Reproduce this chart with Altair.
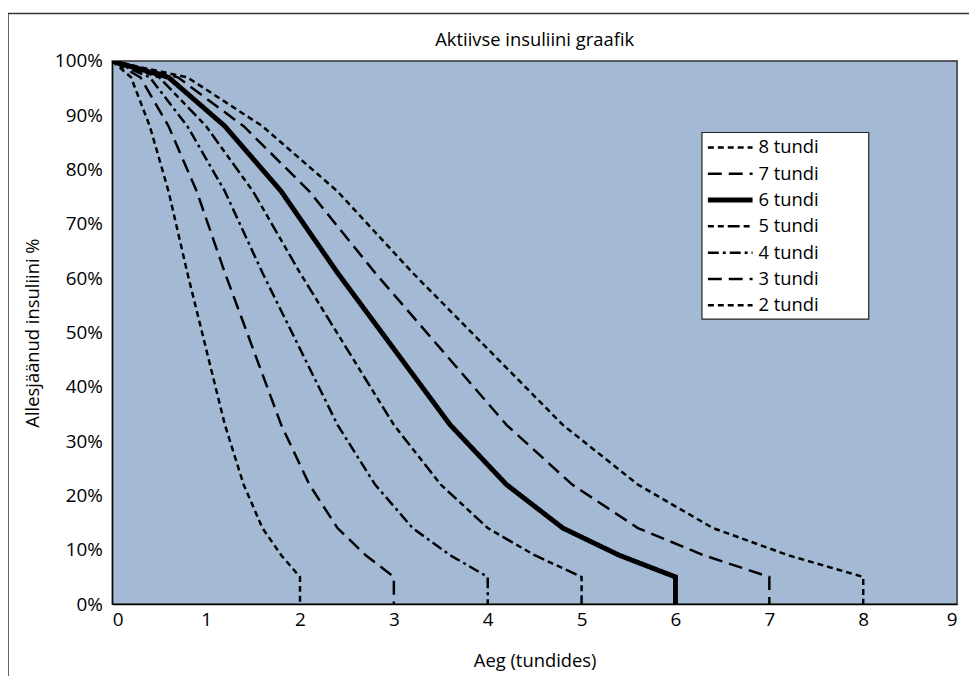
import altair as alt
import pandas as pd

# ---- data ----
series_names = ["8 tundi", "7 tundi", "6 tundi", "5 tundi", "4 tundi", "3 tundi", "2 tundi"]
remaining_pct = [100, 97, 88, 76, 61, 47, 33, 22, 14, 9, 5, 0]
hours_8 = [0, 0.8, 1.6, 2.4, 3.2, 4.0, 4.8, 5.6, 6.4, 7.2, 8.0, 8.0]
hours_7 = [0, 0.7, 1.4, 2.1, 2.8, 3.5, 4.2, 4.9, 5.6, 6.3, 7.0, 7.0]
hours_6 = [0, 0.6, 1.2, 1.8, 2.4, 3.0, 3.6, 4.2, 4.8, 5.4, 6.0, 6.0]
hours_5 = [0, 0.5, 1.0, 1.5, 2.0, 2.5, 3.0, 3.5, 4.0, 4.5, 5.0, 5.0]
hours_4 = [0, 0.4, 0.8, 1.2, 1.6, 2.0, 2.4, 2.8, 3.2, 3.6, 4.0, 4.0]
hours_3 = [0, 0.3, 0.6, 0.9, 1.2, 1.5, 1.8, 2.1, 2.4, 2.7, 3.0, 3.0]
hours_2 = [0, 0.2, 0.4, 0.6, 0.8, 1.0, 1.2, 1.4, 1.6, 1.8, 2.0, 2.0]
x_ticks = [0, 1, 2, 3, 4, 5, 6, 7, 8, 9]
y_ticks = [0, 10, 20, 30, 40, 50, 60, 70, 80, 90, 100]
chart_title = "Aktiivse insuliini graafik"

# ---- styles ----
dash_styles = [[6, 4], [14, 7], [1, 0], [6, 4, 6, 4, 12, 4], [11, 4, 3, 4], [14, 7], [6, 4]]
width_styles = [2.5, 2.5, 5, 2.5, 2.5, 2.5, 2.5]
FONT = "Open Sans"

hours_by_series = [hours_8, hours_7, hours_6, hours_5, hours_4, hours_3, hours_2]
rows = []
for name, hrs in zip(series_names, hours_by_series):
    for i, (h, p) in enumerate(zip(hrs, remaining_pct)):
        rows.append({"series": name, "idx": i, "hours": h, "pct": p})
df = pd.DataFrame(rows)
legend_df = pd.DataFrame({"series": series_names})
title_df = pd.DataFrame({"title": [chart_title]})

W, H = 851, 547

dash_scale = alt.Scale(type="ordinal", domain=series_names, range=dash_styles)
width_scale = alt.Scale(type="ordinal", domain=series_names, range=width_styles)

lines = alt.Chart(df).mark_line(color="black", clip=True).encode(
    x=alt.X("hours:Q", scale=alt.Scale(domain=[0, 9], nice=False),
            axis=alt.Axis(values=x_ticks, format="d", title="Aeg (tundides)",
                          titleY=57, titleBaseline="middle")),
    y=alt.Y("pct:Q", scale=alt.Scale(domain=[0, 100], nice=False),
            axis=alt.Axis(values=y_ticks, labelExpr="datum.value + '%'",
                          title="Allesjäänud insuliini %", titleX=-80,
                          titleBaseline="middle")),
    strokeDash=alt.StrokeDash("series:N", scale=dash_scale, legend=None),
    strokeWidth=alt.StrokeWidth("series:N", scale=width_scale, legend=None),
    detail="series:N",
    order=alt.Order("idx:Q"),
)

legend_box = alt.Chart(title_df).mark_rect(
    fill="white", stroke="#222", strokeWidth=1.2
).encode(
    x=alt.value(594), x2=alt.value(762), y=alt.value(72), y2=alt.value(260)
)

leg_y = alt.Y("series:N", scale=alt.Scale(type="point", domain=series_names,
                                            range=[87, 246], padding=0), axis=None)

legend_lines = alt.Chart(legend_df).mark_rule(color="black").encode(
    x=alt.value(600), x2=alt.value(645), y=leg_y,
    strokeDash=alt.StrokeDash("series:N", scale=dash_scale, legend=None),
    strokeWidth=alt.StrokeWidth("series:N", scale=width_scale, legend=None),
)

legend_text = alt.Chart(legend_df).mark_text(
    align="left", baseline="middle", fontSize=18.5, font=FONT, color="black"
).encode(x=alt.value(651), y=leg_y, text="series:N")

title_text = alt.Chart(title_df).mark_text(
    align="center", baseline="middle", fontSize=18.5, font=FONT, color="black"
).encode(x=alt.value(W / 2), y=alt.value(-21), text="title:N")

frame = alt.Chart(title_df).mark_rect(
    fill="white", fillOpacity=0, stroke="#333", strokeWidth=1.5
).encode(
    x=alt.value(-105), x2=alt.value(W + 60), y=alt.value(-48), y2=alt.value(H + 120)
)

chart = alt.layer(frame, title_text, lines, legend_box, legend_lines, legend_text).resolve_scale(
    y="independent"
).properties(
    width=W, height=H,
    autosize=alt.AutoSizeParams(type="none"),
    padding={"left": 105, "top": 51, "right": 12, "bottom": 70},
).configure_view(
    fill="#A4BAD4", stroke="#333", strokeWidth=1.5
).configure_axis(
    grid=False, ticks=False, domainColor="black", domainWidth=1.2,
    labelFont=FONT, labelFontSize=19, labelColor="black",
    titleFont=FONT, titleFontSize=18.5, titleFontWeight="normal", titleColor="black",
).configure_axisX(labelPadding=7).configure_axisY(labelPadding=10)

chart.save("out.html", embed_options={"renderer": "svg", "actions": False})
